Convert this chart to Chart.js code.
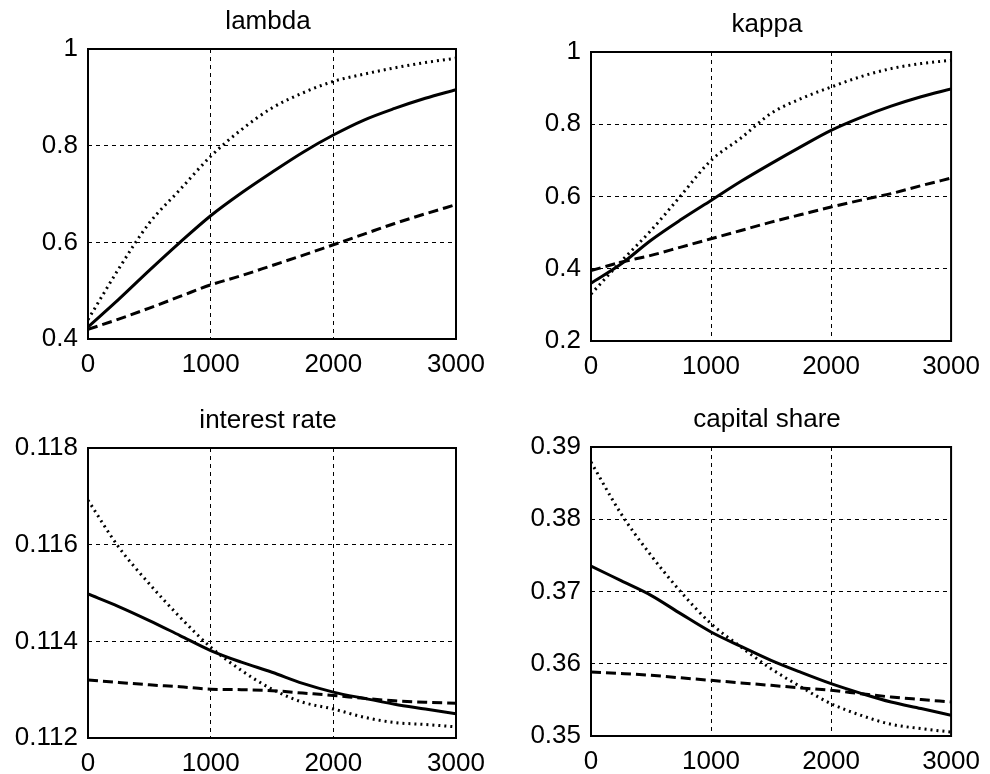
<!DOCTYPE html>
<html>
<head>
<meta charset="utf-8">
<script src="https://cdn.jsdelivr.net/npm/chart.js@4.4.0/dist/chart.umd.min.js"></script>
<style>
  html, body { margin: 0; padding: 0; background: #fff; }
  #wrap { position: relative; width: 990px; height: 774px; }
  canvas { position: absolute; }
</style>
</head>
<body>
<div id="wrap">
  <canvas id="c1" width="495" height="387" style="left:0;top:0"></canvas>
  <canvas id="c2" width="495" height="387" style="left:495px;top:0"></canvas>
  <canvas id="c3" width="495" height="387" style="left:0;top:387px"></canvas>
  <canvas id="c4" width="495" height="387" style="left:495px;top:387px"></canvas>
</div>
<script>
var xs = [0, 250, 500, 750, 1000, 1250, 1500, 1750, 2000, 2250, 2500, 2750, 3000];
var xTicks = [0, 1000, 2000, 3000];

var lambdaSolid  = [0.425, 0.482, 0.542, 0.600, 0.655, 0.702, 0.745, 0.786, 0.822, 0.853, 0.877, 0.898, 0.916];
var lambdaDotted = [0.440, 0.545, 0.640, 0.709, 0.778, 0.833, 0.878, 0.909, 0.933, 0.948, 0.961, 0.972, 0.981];
var lambdaDashed = [0.420, 0.441, 0.464, 0.488, 0.512, 0.531, 0.552, 0.573, 0.595, 0.617, 0.639, 0.659, 0.678];
var lambdaTicks = [0.4, 0.6, 0.8, 1];

var kappaSolid  = [0.360, 0.413, 0.479, 0.536, 0.589, 0.642, 0.691, 0.738, 0.783, 0.819, 0.850, 0.876, 0.898];
var kappaDotted = [0.330, 0.420, 0.506, 0.603, 0.700, 0.762, 0.830, 0.871, 0.903, 0.932, 0.954, 0.968, 0.977];
var kappaDashed = [0.395, 0.418, 0.437, 0.460, 0.483, 0.506, 0.529, 0.550, 0.571, 0.590, 0.608, 0.630, 0.651];
var kappaTicks = [0.2, 0.4, 0.6, 0.8, 1];

var rateSolid  = [0.11498, 0.11472, 0.11443, 0.11412, 0.11381, 0.11357, 0.11336, 0.11313, 0.11295, 0.11282, 0.11270, 0.11260, 0.11250];
var rateDotted = [0.11692, 0.11595, 0.11519, 0.11450, 0.11388, 0.11340, 0.11301, 0.11274, 0.11260, 0.11243, 0.11232, 0.11228, 0.11223];
var rateDashed = [0.11320, 0.11315, 0.11310, 0.11306, 0.11301, 0.11300, 0.11298, 0.11293, 0.11288, 0.11282, 0.11277, 0.11274, 0.11272];
var rateTicks = [0.112, 0.114, 0.116, 0.118];

var shareSolid  = [0.37353, 0.37150, 0.36947, 0.36690, 0.36440, 0.36240, 0.36047, 0.35880, 0.35724, 0.35590, 0.35470, 0.35380, 0.35286];
var shareDotted = [0.38792, 0.38077, 0.37500, 0.36993, 0.36555, 0.36232, 0.35932, 0.35678, 0.35447, 0.35286, 0.35162, 0.35102, 0.35055];
var shareDashed = [0.35886, 0.35865, 0.35840, 0.35805, 0.35770, 0.35735, 0.35701, 0.35665, 0.35632, 0.35585, 0.35540, 0.35505, 0.35471];
var shareTicks = [0.35, 0.36, 0.37, 0.38, 0.39];

var FONT = "'Liberation Sans', Arial, sans-serif";

// axes box + title, matlab style
var boxPlugin = {
  id: "box",
  afterDraw: function (chart) {
    var a = chart.chartArea;
    var ctx = chart.ctx;
    ctx.save();
    ctx.strokeStyle = "#000";
    ctx.lineWidth = 2;
    ctx.setLineDash([]);
    ctx.strokeRect(a.left, a.top, a.right - a.left, a.bottom - a.top);
    ctx.fillStyle = "#000";
    ctx.font = "26px " + FONT;
    ctx.textAlign = "center";
    ctx.textBaseline = "alphabetic";
    ctx.fillText(chart.options.plugins.box.text, (a.left + a.right) / 2 - 4, a.top - 20);
    ctx.restore();
  },
};

function toPoints(vals) {
  return vals.map(function (v, i) { return { x: xs[i], y: v }; });
}

function makeChart(id, title, solid, dashed, dotted, yTicks, lay) {
  var ctx = document.getElementById(id).getContext("2d");
  new Chart(ctx, {
    type: "line",
    data: {
      datasets: [
        { data: toPoints(solid), borderColor: "#000", borderWidth: 3, pointRadius: 0, cubicInterpolationMode: "monotone" },
        { data: toPoints(dashed), borderColor: "#000", borderWidth: 3, borderDash: [10, 5], pointRadius: 0, cubicInterpolationMode: "monotone" },
        { data: toPoints(dotted), borderColor: "#000", borderWidth: 3, borderDash: [2, 4], pointRadius: 0, cubicInterpolationMode: "monotone" },
      ],
    },
    options: {
      responsive: false,
      animation: false,
      devicePixelRatio: 1,
      layout: { padding: { left: 0, top: lay.top, right: lay.right, bottom: 0 } },
      plugins: { legend: { display: false }, tooltip: { enabled: false }, box: { text: title } },
      scales: {
        x: {
          type: "linear",
          min: 0,
          max: 3000,
          afterBuildTicks: function (s) { s.ticks = xTicks.map(function (v) { return { value: v }; }); },
          afterFit: function (s) { s.height = lay.xh; },
          ticks: {
            color: "#000",
            font: { family: FONT, size: 26 },
            padding: 10,
            maxRotation: 0,
            callback: function (v) { return String(v); },
          },
          grid: { color: "#000", lineWidth: 1, drawTicks: false },
          border: { display: false, dash: [4, 4] },
        },
        y: {
          min: yTicks[0],
          max: yTicks[yTicks.length - 1],
          afterBuildTicks: function (s) { s.ticks = yTicks.map(function (v) { return { value: v }; }); },
          afterFit: function (s) { s.width = lay.yw; },
          ticks: {
            color: "#000",
            font: { family: FONT, size: 26 },
            padding: 10,
            callback: function (v) { return String(+v.toFixed(4)); },
          },
          grid: { color: "#000", lineWidth: 1, drawTicks: false },
          border: { display: false, dash: [4, 4] },
        },
      },
    },
    plugins: [boxPlugin],
  });
}

makeChart("c1", "lambda", lambdaSolid, lambdaDashed, lambdaDotted, lambdaTicks, { top: 49, right: 39, yw: 88, xh: 48 });
makeChart("c2", "kappa", kappaSolid, kappaDashed, kappaDotted, kappaTicks, { top: 52, right: 32, yw: 96, xh: 46 });
makeChart("c3", "interest rate", rateSolid, rateDashed, rateDotted, rateTicks, { top: 61, right: 39, yw: 88, xh: 36 });
makeChart("c4", "capital share", shareSolid, shareDashed, shareDotted, shareTicks, { top: 60, right: 32, yw: 96, xh: 38 });
</script>
</body>
</html>
